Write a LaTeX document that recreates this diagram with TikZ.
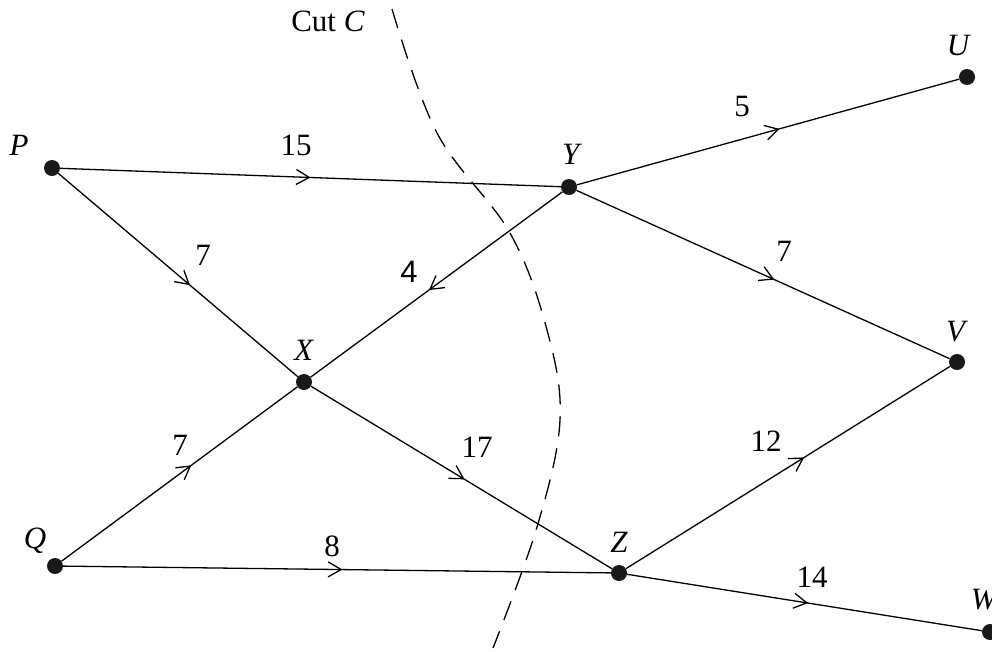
\documentclass[tikz,border=0pt]{standalone}
\usepackage{fontspec}
\setmainfont{Liberation Serif}
\newfontfamily\sansdigit{Liberation Sans}
\usetikzlibrary{arrows.meta,decorations.markings}
\begin{document}
\begin{tikzpicture}[x=1pt,y=-1pt,
  dot/.style={circle,fill=black!90,inner sep=0pt,minimum size=16pt},
  lbl/.style={font=\fontsize{31}{36}\selectfont,inner sep=0pt},
  edge/.style={line width=1.3pt,
    decoration={markings,mark=at position #1 with {\arrow{Straight Barb[length=13pt,width=15pt,line width=1.3pt]}}},
    postaction={decorate}},
  edge/.default=0.53,
  cut/.style={line width=1.3pt,dash pattern=on 20pt off 12pt}]
\useasboundingbox (0,0) rectangle (992,651);
% vertices
\node[dot] (P) at (52,168) {};
\node[dot] (Y) at (569,187) {};
\node[dot] (U) at (967,77) {};
\node[dot] (X) at (304,382) {};
\node[dot] (V) at (957,362) {};
\node[dot] (Q) at (55,566) {};
\node[dot] (Z) at (619,573) {};
\node[dot] (W) at (990,632) {};
% vertex labels
\node[lbl] (lP) at (19,145) {\textit{P}};
\node[lbl] (lY) at (572,154) {\textit{Y}};
\node[lbl] (lU) at (959,45) {\textit{U}};
\node[lbl] (lX) at (304,350) {\textit{X}};
\node[lbl] (lV) at (957,332) {\textit{V}};
\node[lbl] (lQ) at (35,541) {\textit{Q}};
\node[lbl] (lZ) at (619,542) {\textit{Z}};
\node[lbl] (lW) at (985,600) {\textit{W}};
% edges
\draw[edge=0.50] (P) -- (Y);
\draw[edge=0.55] (P) -- (X);
\draw[edge=0.53] (Y) -- (X);
\draw[edge=0.53] (Y) -- (U);
\draw[edge=0.53] (Y) -- (V);
\draw[edge=0.55] (Q) -- (X);
\draw[edge=0.51] (X) -- (Z);
\draw[edge=0.51] (Q) -- (Z);
\draw[edge=0.55] (Z) -- (V);
\draw[edge=0.51] (Z) -- (W);
% weights
\node[lbl] (w15) at (296,145) {15};
\node[lbl] (w7a) at (203,255) {7};
\node[lbl] (w4) at (409,272) {\sansdigit 4};
\node[lbl] (w5) at (742,106) {5};
\node[lbl] (w7b) at (784,251) {7};
\node[lbl] (w7c) at (180,445) {7};
\node[lbl] (w17) at (477,447) {17};
\node[lbl] (w12) at (766,441) {12};
\node[lbl] (w8) at (332,546) {8};
\node[lbl] (w14) at (812,577) {14};
% cut
\node[lbl] (cutlbl) at (328,21) {Cut \textit{C}};
\draw[cut] plot[smooth,tension=0.6] coordinates {(392,9) (437,133) (510,233) (547,330) (560,420) (537,527) (493,648)};
\end{tikzpicture}
\end{document}
